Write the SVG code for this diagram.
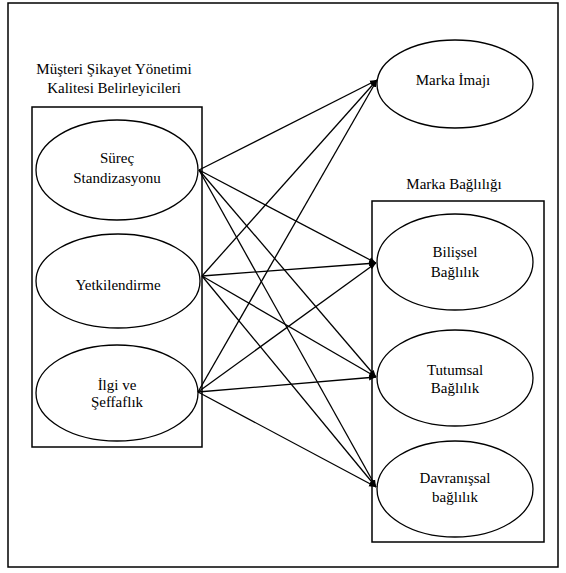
<svg xmlns="http://www.w3.org/2000/svg" width="566" height="573" viewBox="0 0 566 573">
<style>
text{font-family:'Liberation Serif','DejaVu Serif','Times New Roman',serif;font-size:15px;fill:#000;text-anchor:middle}
.box{fill:none;stroke:#000;stroke-width:1.5}
.el{fill:#fff;stroke:#000;stroke-width:1.3}
.c line{stroke:#000;stroke-width:1.3;marker-end:url(#ah)}
</style>
<defs>
<marker id="ah" viewBox="0 0 10 10" refX="10" refY="5" markerWidth="7" markerHeight="7" markerUnits="userSpaceOnUse" orient="auto">
<path d="M0,1 L10,5 L0,9 z" fill="#000"/>
</marker>
</defs>
<rect x="0" y="0" width="566" height="573" fill="#fff"/>
<rect id="frame" class="box" x="8" y="3" width="550" height="564"/>
<g id="group-left" font-family="Liberation Serif, serif">
<rect class="box" x="32" y="107" width="170" height="340"/>
<text x="114" y="74">Müşteri Şikayet Yönetimi</text>
<text x="114" y="93">Kalitesi Belirleyicileri</text>
</g>
<g id="group-right">
<rect class="box" x="372" y="201" width="172" height="341"/>
<text x="454" y="189">Marka Bağlılığı</text>
</g>
<g id="n-surec">
<ellipse class="el" cx="117" cy="170" rx="81" ry="50"/>
<text x="117" y="163">Süreç</text>
<text x="117" y="183">Standizasyonu</text>
</g>
<g id="n-yetki">
<ellipse class="el" cx="118" cy="281" rx="82" ry="47"/>
<text x="118" y="290">Yetkilendirme</text>
</g>
<g id="n-ilgi">
<ellipse class="el" cx="117" cy="393" rx="81" ry="48"/>
<text x="117" y="390">İlgi ve</text>
<text x="117" y="407">Şeffaflık</text>
</g>
<g id="n-imaj">
<ellipse class="el" cx="455" cy="84" rx="78" ry="44"/>
<text x="453" y="85">Marka İmajı</text>
</g>
<g id="n-bilissel">
<ellipse class="el" cx="455" cy="262" rx="78" ry="48"/>
<text x="455" y="257">Bilişsel</text>
<text x="455" y="277">Bağlılık</text>
</g>
<g id="n-tutumsal">
<ellipse class="el" cx="455" cy="378" rx="78" ry="48"/>
<text x="455" y="375">Tutumsal</text>
<text x="455" y="393">Bağlılık</text>
</g>
<g id="n-davranissal">
<ellipse class="el" cx="455" cy="489" rx="78" ry="48"/>
<text x="455" y="483">Davranışsal</text>
<text x="455" y="502">bağlılık</text>
</g>
<g id="connectors" class="c">
<line x1="199" y1="170" x2="377" y2="80"/>
<line x1="199" y1="170" x2="376" y2="263"/>
<line x1="199" y1="170" x2="376" y2="377"/>
<line x1="199" y1="170" x2="376" y2="487"/>
<line x1="202" y1="276" x2="377" y2="80"/>
<line x1="202" y1="276" x2="376" y2="263"/>
<line x1="202" y1="276" x2="376" y2="377"/>
<line x1="202" y1="276" x2="376" y2="487"/>
<line x1="198" y1="392" x2="377" y2="80"/>
<line x1="198" y1="392" x2="376" y2="263"/>
<line x1="198" y1="392" x2="376" y2="377"/>
<line x1="198" y1="392" x2="376" y2="487"/>
</g>
</svg>
